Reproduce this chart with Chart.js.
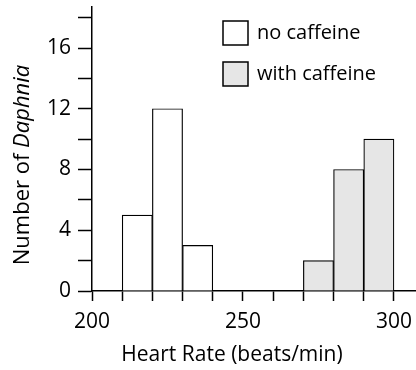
<!DOCTYPE html>
<html>
<head>
<meta charset="utf-8">
<script src="https://cdn.jsdelivr.net/npm/chart.js@4/dist/chart.umd.min.js"></script>
<style>
  html, body { margin: 0; padding: 0; background: #fff; }
  canvas { display: block; }
</style>
</head>
<body>
<canvas id="chart" width="416" height="370"></canvas>
<script>
// histogram data: bin start (beats/min) and count per bin
const binWidth = 10;
const noCaffeineBins = [210, 220, 230];
const noCaffeineCounts = [5, 12, 3];
const caffeineBins = [270, 280, 290];
const caffeineCounts = [2, 8, 10];
const seriesLabels = ['no caffeine', 'with caffeine'];
const xLabelTicks = [200, 250, 300];
const yLabelTicks = [0, 4, 8, 12, 16];

const FONT = "'Open Sans', sans-serif";

function toBars(starts, counts) {
  return starts.map((s, i) => ({ x: s + binWidth / 2, y: counts[i] }));
}

// axis titles (y title has italic genus name)
const axisTitlePlugin = {
  id: 'axisTitles',
  afterDraw(chart) {
    const ctx = chart.ctx;
    ctx.save();
    ctx.fillStyle = '#000';
    ctx.textBaseline = 'middle';

    ctx.font = '21px ' + FONT;
    ctx.textAlign = 'center';
    ctx.fillText('Heart Rate (beats/min)', 232, 355);

    const a = 'Number of ', b = 'Daphnia';
    ctx.textAlign = 'left';
    ctx.font = '22px ' + FONT;
    const wa = ctx.measureText(a).width;
    ctx.font = 'italic 22px ' + FONT;
    const wb = ctx.measureText(b).width;
    ctx.translate(23, 165);
    ctx.rotate(-Math.PI / 2);
    const x = -(wa + wb) / 2;
    ctx.font = '22px ' + FONT;
    ctx.fillText(a, x, 0);
    ctx.font = 'italic 22px ' + FONT;
    ctx.fillText(b, x + wa, 0);
    ctx.restore();
  }
};

// legend boxes in upper right
const boxLegendPlugin = {
  id: 'boxLegend',
  afterDraw(chart) {
    const ctx = chart.ctx;
    ctx.save();
    chart.data.datasets.forEach((ds, i) => {
      const top = 21 + i * 41;
      ctx.fillStyle = ds.backgroundColor;
      ctx.fillRect(223, top, 25, 24);
      ctx.strokeStyle = '#000';
      ctx.lineWidth = 1.5;
      ctx.strokeRect(223, top, 25, 24);
      ctx.fillStyle = '#000';
      ctx.font = '20px ' + FONT;
      ctx.textBaseline = 'middle';
      ctx.fillText(ds.label, 257, top + 12);
    });
    ctx.restore();
  }
};

new Chart(document.getElementById('chart'), {
  type: 'bar',
  data: {
    datasets: [{
      label: seriesLabels[0],
      data: toBars(noCaffeineBins, noCaffeineCounts),
      backgroundColor: '#ffffff',
      borderColor: '#000',
      borderWidth: 1.2
    }, {
      label: seriesLabels[1],
      data: toBars(caffeineBins, caffeineCounts),
      backgroundColor: '#e6e6e6',
      borderColor: '#000',
      borderWidth: 1.2
    }]
  },
  options: {
    responsive: false,
    animation: false,
    grouped: false,
    barPercentage: 1,
    categoryPercentage: 1,
    layout: { padding: { top: 7, right: 0, left: 0, bottom: 0 } },
    scales: {
      x: {
        type: 'linear',
        offset: false,
        min: 200,
        max: 307.3,
        afterFit: (s) => { s.height = 79; s.paddingRight = 0; s.paddingLeft = 0; },
        ticks: {
          stepSize: 10,
          autoSkip: false,
          includeBounds: false,
          maxRotation: 0,
          padding: 8,
          color: '#000',
          font: { family: FONT, size: 21 },
          callback: (v) => xLabelTicks.includes(v) ? String(v) : ''
        },
        grid: {
          offset: false,
          drawOnChartArea: false,
          drawTicks: true,
          tickLength: 10,
          tickColor: '#000',
          tickWidth: 1.5
        },
        border: { display: true, color: '#000', width: 1.5 }
      },
      y: {
        min: 0,
        max: 18.7,
        afterFit: (s) => { s.width = 92; s.paddingTop = 0; s.paddingBottom = 0; },
        ticks: {
          stepSize: 2,
          autoSkip: false,
          includeBounds: false,
          padding: 7,
          color: '#000',
          font: { family: FONT, size: 21 },
          callback: (v) => yLabelTicks.includes(v) ? String(v) : ''
        },
        grid: {
          drawOnChartArea: false,
          drawTicks: true,
          tickLength: 14,
          tickColor: '#000',
          tickWidth: 1.5
        },
        border: { display: true, color: '#000', width: 1.5 }
      }
    },
    plugins: {
      legend: { display: false },
      tooltip: { enabled: false }
    }
  },
  plugins: [axisTitlePlugin, boxLegendPlugin]
});
</script>
</body>
</html>
